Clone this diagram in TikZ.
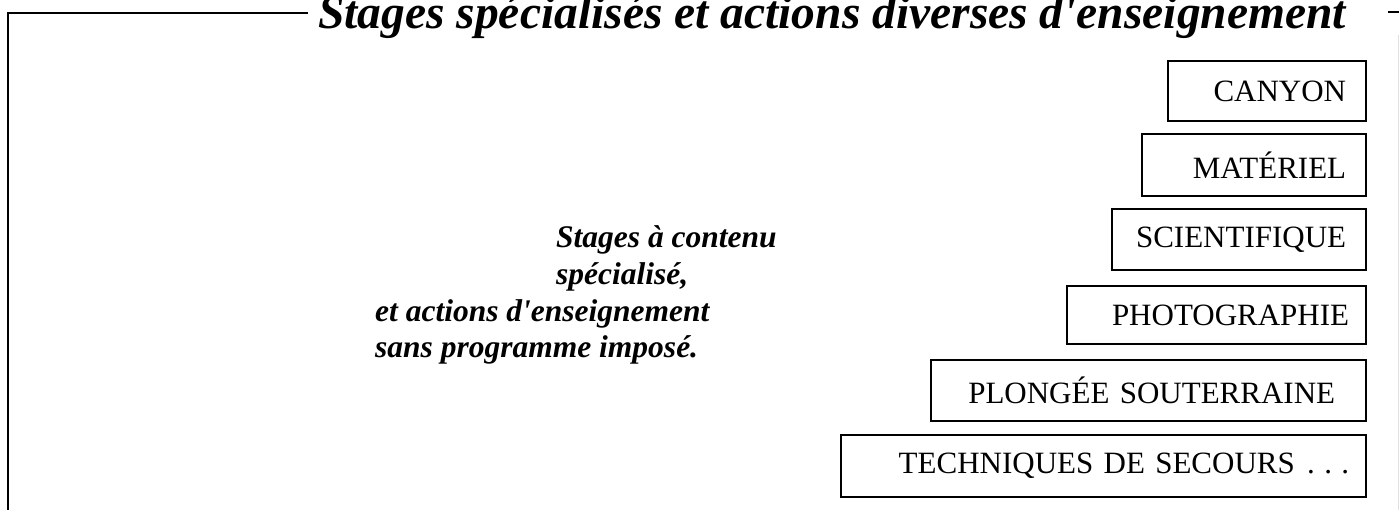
\documentclass[tikz,border=0pt]{standalone}
\usepackage{fontspec}
\setmainfont{Liberation Serif}
\begin{document}
\begin{tikzpicture}[x=1pt,y=-1pt,
  frame/.style={line width=1.8pt, line cap=rect},
  box/.style={draw, line width=1.8pt, anchor=north east, align=right,
    inner xsep=20pt, inner ysep=0pt, font=\fontsize{31}{37}\selectfont},
  title/.style={anchor=base west, inner sep=0pt, font=\fontsize{47.5}{50}\selectfont\bfseries\itshape},
  note/.style={anchor=base west, inner sep=0pt, font=\fontsize{31.5}{37}\selectfont\bfseries\itshape}]
\useasboundingbox (0,0) rectangle (1399,510);
% frame
\coordinate (tl) at (8,13);
\coordinate (tr) at (307,13);
\coordinate (bl) at (8,512);
\draw[frame] (bl) -- (tl) -- (tr);
\coordinate (d1) at (1388,12);
\coordinate (d2) at (1401,12);
\draw[line width=1.2pt] (d1) -- (d2);
\coordinate (r1) at (1398,35);
\coordinate (r2) at (1398,512);
\draw[black!12, line width=1pt] (r1) -- (r2);
% title
\node[title] (ttl) at (318,29) {Stages spécialisés et actions diverses d\textquotesingle enseignement};
% middle text
\node[note] (n1) at (556,248) {Stages à contenu};
\node[note] (n2) at (556,285) {spécialisé,};
\node[note] (n3) at (375,322) {et actions d\textquotesingle enseignement};
\node[note] (n4) at (375,357) {sans programme imposé.};
% boxes
\node[box, text width=158pt, minimum height=60pt] (canyon) at (1367,60) {CANYON};
\node[box, text width=184pt, minimum height=62pt] (mat) at (1367,133) {MATÉRIEL};
\node[box, text width=214pt, minimum height=61pt] (sci) at (1367,208) {SCIENTIFIQUE};
\node[box, inner xsep=17pt, text width=265pt, minimum height=58pt] (photo) at (1367,285) {PHOTOGRAPHIE};
\node[box, inner xsep=31pt, text width=373pt, minimum height=61pt] (plong) at (1367,359) {PLONGÉE SOUTERRAINE};
\node[box, inner xsep=17pt, text width=491pt, minimum height=62pt] (tech) at (1367,434) {TECHNIQUES DE SECOURS\hspace{0.4em}.\hspace{0.3em}.\hspace{0.3em}.};
\end{tikzpicture}
\end{document}
